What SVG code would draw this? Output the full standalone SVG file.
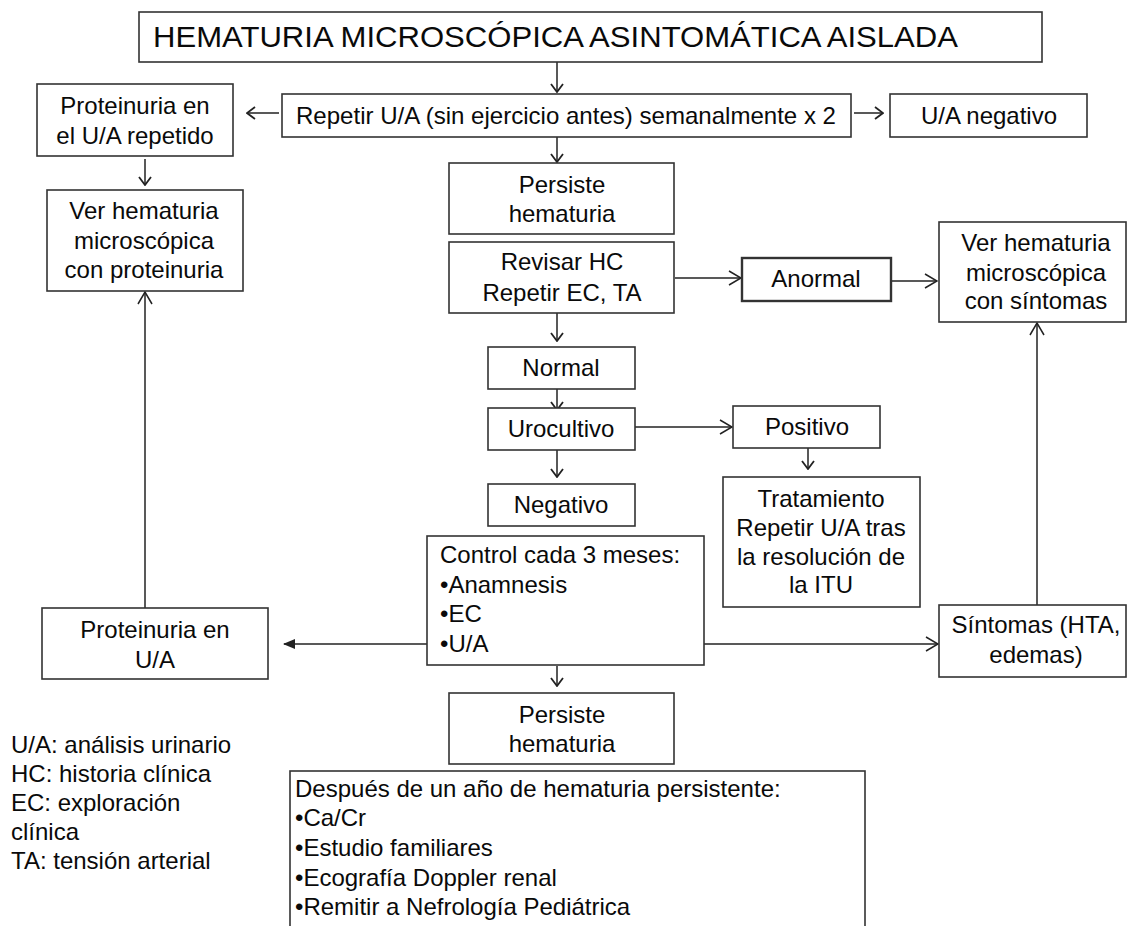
<svg xmlns="http://www.w3.org/2000/svg" width="1128" height="926" viewBox="0 0 1128 926">
<defs>
<style>
.box{fill:#fff;stroke:#333;stroke-width:1.6}
.t{font-family:"Liberation Sans",Arial,Helvetica,sans-serif;font-size:24px;fill:#0a0a0a}
.c{text-anchor:middle}
.ln{fill:none;stroke:#222;stroke-width:1.5}
</style>
<marker id="o" viewBox="0 0 14 16" refX="13" refY="8" markerWidth="14" markerHeight="16" markerUnits="userSpaceOnUse" orient="auto">
<path d="M1,1 L13,8 L1,15" fill="none" stroke="#222" stroke-width="1.5"/>
</marker>
<marker id="s" viewBox="0 0 10 14" refX="9" refY="7" markerWidth="10" markerHeight="14" markerUnits="userSpaceOnUse" orient="auto">
<path d="M1,1 L9,7 L1,13" fill="none" stroke="#222" stroke-width="1.8"/>
</marker>
<marker id="f" viewBox="0 0 12 10" refX="11" refY="5" markerWidth="12" markerHeight="10" markerUnits="userSpaceOnUse" orient="auto">
<path d="M0,0 L12,5 L0,10 Z" fill="#222"/>
</marker>
</defs>
<rect width="1128" height="926" fill="#fff"/>

<g id="connectors">
<line class="ln" x1="557" y1="62" x2="557" y2="92" marker-end="url(#s)"/>
<line class="ln" x1="279" y1="113" x2="247" y2="113" marker-end="url(#s)"/>
<line class="ln" x1="854" y1="113" x2="883" y2="113" marker-end="url(#s)"/>
<line class="ln" x1="557" y1="137" x2="557" y2="162" marker-end="url(#s)"/>
<line class="ln" x1="145" y1="159" x2="145" y2="185" marker-end="url(#s)"/>
<line class="ln" x1="675" y1="278" x2="741" y2="278" marker-end="url(#o)"/>
<line class="ln" x1="891" y1="281" x2="937" y2="281" marker-end="url(#o)"/>
<line class="ln" x1="557" y1="313" x2="557" y2="341" marker-end="url(#s)"/>
<line class="ln" x1="557" y1="389" x2="557" y2="410" marker-end="url(#s)"/>
<line class="ln" x1="635" y1="427" x2="732" y2="427" marker-end="url(#o)"/>
<line class="ln" x1="808" y1="448" x2="808" y2="469" marker-end="url(#s)"/>
<line class="ln" x1="557" y1="450" x2="557" y2="477" marker-end="url(#s)"/>
<line class="ln" x1="427" y1="644" x2="284" y2="644" marker-end="url(#f)"/>
<line class="ln" x1="704" y1="644" x2="938" y2="644" marker-end="url(#o)"/>
<line class="ln" x1="1037" y1="605" x2="1037" y2="323" marker-end="url(#o)"/>
<line class="ln" x1="145" y1="608" x2="145" y2="292" marker-end="url(#o)"/>
<line class="ln" x1="557" y1="666" x2="557" y2="686" marker-end="url(#s)"/>
</g>

<g id="title">
<rect class="box" x="139" y="12" width="903" height="50"/>
<text class="t" x="153" y="47" style="font-size:30px" textLength="805" lengthAdjust="spacingAndGlyphs">HEMATURIA MICROSCÓPICA ASINTOMÁTICA AISLADA</text>
</g>

<g id="repetir">
<rect class="box" x="282" y="94" width="569" height="43"/>
<text class="t" x="296" y="124" textLength="540" lengthAdjust="spacingAndGlyphs">Repetir U/A (sin ejercicio antes) semanalmente x 2</text>
</g>

<g id="proteinuria-repetido">
<rect class="box" x="37" y="84" width="196" height="72"/>
<text class="t c" x="135" y="114">Proteinuria en</text>
<text class="t c" x="135" y="144">el U/A repetido</text>
</g>

<g id="ua-negativo">
<rect class="box" x="890" y="94" width="197" height="43"/>
<text class="t c" x="989" y="124">U/A negativo</text>
</g>

<g id="ver-proteinuria">
<rect class="box" x="47" y="190" width="196" height="101"/>
<text class="t c" x="144" y="219">Ver hematuria</text>
<text class="t c" x="144" y="249">microscópica</text>
<text class="t c" x="144" y="278">con proteinuria</text>
</g>

<g id="persiste1">
<rect class="box" x="449" y="163" width="225" height="71"/>
<text class="t c" x="562" y="193">Persiste</text>
<text class="t c" x="562" y="222">hematuria</text>
</g>

<g id="revisar">
<rect class="box" x="449" y="242" width="225" height="71"/>
<text class="t c" x="562" y="270">Revisar HC</text>
<text class="t c" x="562" y="301">Repetir EC, TA</text>
</g>

<g id="anormal">
<rect class="box" x="742" y="258" width="149" height="43" style="stroke-width:2.4"/>
<text class="t c" x="816" y="287">Anormal</text>
</g>

<g id="ver-sintomas">
<rect class="box" x="939" y="222" width="187" height="100"/>
<text class="t c" x="1036" y="251">Ver hematuria</text>
<text class="t c" x="1036" y="281">microscópica</text>
<text class="t c" x="1036" y="309">con síntomas</text>
</g>

<g id="normal">
<rect class="box" x="488" y="347" width="147" height="42"/>
<text class="t c" x="561" y="376">Normal</text>
</g>

<g id="urocultivo">
<rect class="box" x="488" y="408" width="147" height="42"/>
<text class="t c" x="561" y="437">Urocultivo</text>
</g>

<g id="negativo">
<rect class="box" x="488" y="484" width="147" height="42"/>
<text class="t c" x="561" y="513">Negativo</text>
</g>

<g id="positivo">
<rect class="box" x="733" y="406" width="147" height="42"/>
<text class="t c" x="807" y="435">Positivo</text>
</g>

<g id="tratamiento">
<rect class="box" x="723" y="477" width="197" height="130"/>
<text class="t c" x="821" y="507">Tratamiento</text>
<text class="t c" x="821" y="536">Repetir U/A tras</text>
<text class="t c" x="821" y="565">la resolución de</text>
<text class="t c" x="821" y="593">la ITU</text>
</g>

<g id="control">
<rect class="box" x="427" y="536" width="277" height="129"/>
<text class="t" x="440" y="563">Control cada 3 meses:</text>
<text class="t" x="440" y="593">•Anamnesis</text>
<text class="t" x="440" y="622">•EC</text>
<text class="t" x="440" y="652">•U/A</text>
</g>

<g id="proteinuria-ua">
<rect class="box" x="42" y="608" width="226" height="71"/>
<text class="t c" x="155" y="638">Proteinuria en</text>
<text class="t c" x="155" y="668">U/A</text>
</g>

<g id="sintomas">
<rect class="box" x="939" y="605" width="187" height="72"/>
<text class="t c" x="1036" y="633">Síntomas (HTA,</text>
<text class="t c" x="1036" y="663">edemas)</text>
</g>

<g id="persiste2">
<rect class="box" x="449" y="693" width="225" height="71"/>
<text class="t c" x="562" y="723">Persiste</text>
<text class="t c" x="562" y="752">hematuria</text>
</g>

<g id="despues">
<rect class="box" x="290" y="771" width="575" height="170"/>
<text class="t" x="295" y="797">Después de un año de hematuria persistente:</text>
<text class="t" x="295" y="826">•Ca/Cr</text>
<text class="t" x="295" y="856">•Estudio familiares</text>
<text class="t" x="295" y="886">•Ecografía Doppler renal</text>
<text class="t" x="295" y="915">•Remitir a Nefrología Pediátrica</text>
</g>

<g id="legend">
<text class="t" x="11" y="753">U/A: análisis urinario</text>
<text class="t" x="11" y="782">HC: historia clínica</text>
<text class="t" x="11" y="811">EC: exploración</text>
<text class="t" x="11" y="840">clínica</text>
<text class="t" x="11" y="869">TA: tensión arterial</text>
</g>
</svg>
